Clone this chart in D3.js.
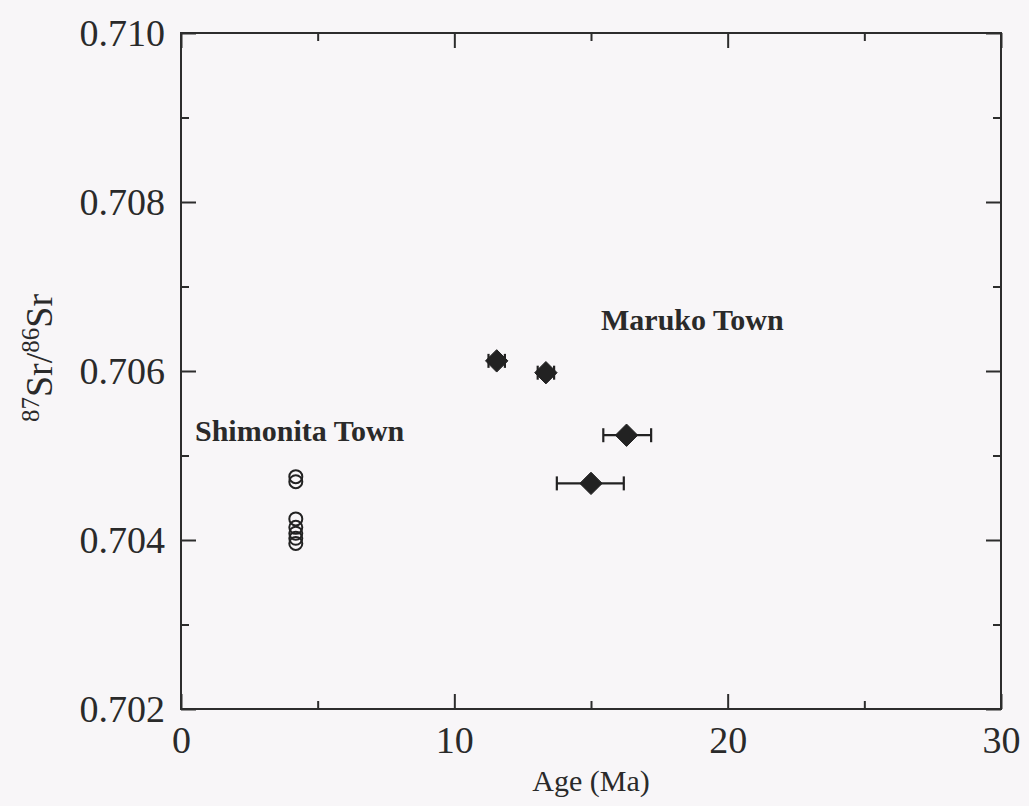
<!DOCTYPE html>
<html>
<head>
<meta charset="utf-8">
<script src="https://cdn.jsdelivr.net/npm/d3@7"></script>
<style>
  html, body { margin: 0; padding: 0; background: #f8f6f8; }
  svg { display: block; }
  text { font-family: "Liberation Serif", "Times New Roman", serif; fill: #2a2a2a; }
</style>
</head>
<body>
<svg id="chart" width="1029" height="806"></svg>
<script>
// Shimonita Town: open circles (age in Ma, 87Sr/86Sr)
const shimonitaAge = [4.2, 4.2, 4.2, 4.2, 4.2, 4.2, 4.2];
const shimonitaSr  = [0.70475, 0.70469, 0.70425, 0.70415, 0.70408, 0.70402, 0.70396];

// Maruko Town: filled diamonds with age uncertainty
const marukoAge    = [11.55, 13.35, 16.3, 15.0];
const marukoAgeLo  = [11.25, 13.05, 15.45, 13.75];
const marukoAgeHi  = [11.85, 13.65, 17.2, 16.2];
const marukoSr     = [0.70612, 0.70598, 0.70524, 0.70467];
const marukoSrErr  = [0.00006, 0.0, 0.0, 0.0];

const xMajor = [0, 10, 20, 30];
const xMinor = [5, 15, 25];
const yMajor = [0.702, 0.704, 0.706, 0.708, 0.710];
const yMinor = [0.703, 0.705, 0.707, 0.709];

const svg = d3.select("#chart");
const mLeft = 181, mRight = 1001, mTop = 33, mBottom = 709;

const x = d3.scaleLinear().domain([0, 30]).range([mLeft, mRight]);
const y = d3.scaleLinear().domain([0.702, 0.710]).range([mBottom, mTop]);

const ink = "#2d2d2d";
const majorLen = 15, minorLen = 8;

// frame
svg.append("rect")
  .attr("x", mLeft).attr("y", mTop)
  .attr("width", mRight - mLeft).attr("height", mBottom - mTop)
  .attr("fill", "none").attr("stroke", ink).attr("stroke-width", 2);

// axes with inward ticks on all four sides
const gBottom = svg.append("g").attr("transform", `translate(0,${mBottom})`)
  .call(d3.axisBottom(x).tickValues(xMajor).tickSize(-majorLen).tickPadding(17)
    .tickFormat(d3.format("d")));
const gBottomMinor = svg.append("g").attr("transform", `translate(0,${mBottom})`)
  .call(d3.axisBottom(x).tickValues(xMinor).tickSize(-minorLen).tickFormat(""));
const gTop = svg.append("g").attr("transform", `translate(0,${mTop})`)
  .call(d3.axisTop(x).tickValues(xMajor).tickSize(-majorLen).tickFormat(""));
const gTopMinor = svg.append("g").attr("transform", `translate(0,${mTop})`)
  .call(d3.axisTop(x).tickValues(xMinor).tickSize(-minorLen).tickFormat(""));
const gLeft = svg.append("g").attr("transform", `translate(${mLeft},0)`)
  .call(d3.axisLeft(y).tickValues(yMajor).tickSize(-majorLen).tickPadding(16)
    .tickFormat(d3.format(".3f")));
const gLeftMinor = svg.append("g").attr("transform", `translate(${mLeft},0)`)
  .call(d3.axisLeft(y).tickValues(yMinor).tickSize(-minorLen).tickFormat(""));
const gRight = svg.append("g").attr("transform", `translate(${mRight},0)`)
  .call(d3.axisRight(y).tickValues(yMajor).tickSize(-majorLen).tickFormat(""));
const gRightMinor = svg.append("g").attr("transform", `translate(${mRight},0)`)
  .call(d3.axisRight(y).tickValues(yMinor).tickSize(-minorLen).tickFormat(""));

[gBottom, gBottomMinor, gTop, gTopMinor, gLeft, gLeftMinor, gRight, gRightMinor].forEach(g => {
  g.select(".domain").remove();
  g.selectAll(".tick line").attr("stroke", ink).attr("stroke-width", 2);
  g.selectAll(".tick text")
    .style("font-family", '"Liberation Serif", "Times New Roman", serif')
    .attr("fill", "#2a2a2a");
});
gBottom.selectAll(".tick text").style("font-size", "38px").attr("dy", "0.71em");
gLeft.selectAll(".tick text").style("font-size", "38px");

// axis titles
svg.append("text")
  .attr("x", (mLeft + mRight) / 2).attr("y", 791)
  .attr("text-anchor", "middle")
  .style("font-size", "30px")
  .text("Age (Ma)");

const yTitle = svg.append("text")
  .attr("transform", `translate(52,358) rotate(-90)`)
  .attr("text-anchor", "middle")
  .style("font-size", "38px");
yTitle.append("tspan").attr("baseline-shift", "super").style("font-size", "25px").text("87");
yTitle.append("tspan").text("Sr/");
yTitle.append("tspan").attr("baseline-shift", "super").style("font-size", "25px").text("86");
yTitle.append("tspan").text("Sr");

// Maruko error bars
const capH = 7;
const mk = marukoAge.map((a, i) => ({
  a, lo: marukoAgeLo[i], hi: marukoAgeHi[i], sr: marukoSr[i], se: marukoSrErr[i]
}));
const eb = svg.append("g").attr("stroke", "#222").attr("stroke-width", 2.2);
eb.selectAll("line.h").data(mk).join("line").attr("class", "h")
  .attr("x1", d => x(d.lo)).attr("x2", d => x(d.hi))
  .attr("y1", d => y(d.sr)).attr("y2", d => y(d.sr));
eb.selectAll("line.cl").data(mk).join("line").attr("class", "cl")
  .attr("x1", d => x(d.lo)).attr("x2", d => x(d.lo))
  .attr("y1", d => y(d.sr) - capH).attr("y2", d => y(d.sr) + capH);
eb.selectAll("line.cr").data(mk).join("line").attr("class", "cr")
  .attr("x1", d => x(d.hi)).attr("x2", d => x(d.hi))
  .attr("y1", d => y(d.sr) - capH).attr("y2", d => y(d.sr) + capH);
eb.selectAll("line.v").data(mk.filter(d => d.se > 0)).join("line").attr("class", "v")
  .attr("x1", d => x(d.a)).attr("x2", d => x(d.a))
  .attr("y1", d => y(d.sr - d.se)).attr("y2", d => y(d.sr + d.se));

// Maruko diamonds
const diamond = d3.symbol().type(d3.symbolDiamond2).size(320);
svg.append("g").selectAll("path").data(mk).join("path")
  .attr("transform", d => `translate(${x(d.a)},${y(d.sr)})`)
  .attr("d", diamond)
  .attr("fill", "#222").attr("stroke", "#222").attr("stroke-width", 1);

// Shimonita open circles
svg.append("g").selectAll("circle").data(shimonitaAge.map((a, i) => ({ a, sr: shimonitaSr[i] })))
  .join("circle")
  .attr("cx", d => x(d.a)).attr("cy", d => y(d.sr)).attr("r", 6.5)
  .attr("fill", "none").attr("stroke", "#222").attr("stroke-width", 2);

// locality labels
svg.append("text")
  .attr("x", 195).attr("y", 441)
  .style("font-size", "30px").style("font-weight", "bold")
  .text("Shimonita Town");
svg.append("text")
  .attr("x", 601).attr("y", 330)
  .style("font-size", "30px").style("font-weight", "bold")
  .text("Maruko Town");
</script>
</body>
</html>
